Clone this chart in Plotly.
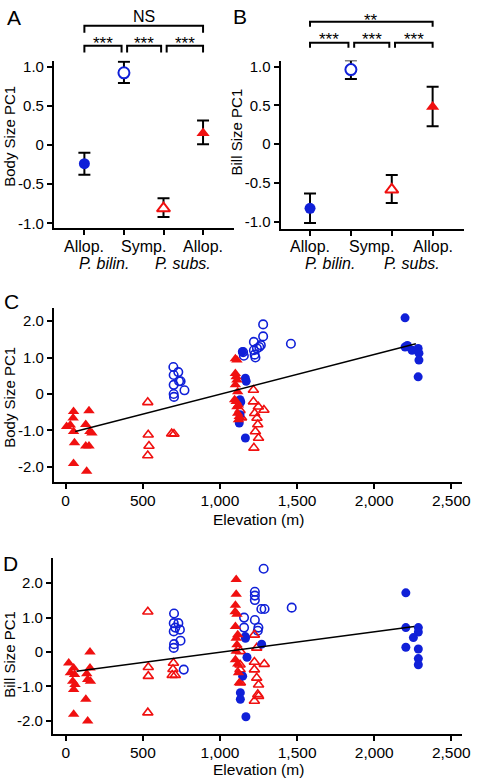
import plotly.graph_objects as go

W, H = 478, 782
FONT = "Liberation Sans, Arial, Helvetica, sans-serif"
BLUE = "#1020d8"
RED = "#f01010"

# ---------------- Data: panels A and B (group means with CI) ----------------
groups = ["Allop. P. bilin.", "Symp. P. bilin.", "Symp. P. subs.", "Allop. P. subs."]
group_x = [0, 1, 2, 3]
group_symbol = ["circle", "circle", "triangle-up", "triangle-up"]
group_fill = [BLUE, "white", "white", RED]
group_edge = [BLUE, BLUE, RED, RED]

body_mean = [-0.24, 0.92, -0.81, 0.15]
body_lo = [-0.38, 0.79, -0.92, 0.01]
body_hi = [-0.10, 1.06, -0.68, 0.31]

bill_mean = [-0.83, 0.96, -0.59, 0.48]
bill_lo = [-1.02, 0.84, -0.76, 0.23]
bill_hi = [-0.64, 1.08, -0.40, 0.74]

row1_labels = ["Allop.", "Symp.", "Allop."]
row1_pos = [0, 1.5, 3]
row2_labels = ["P. bilin.", "P. subs."]
row2_pos = [0.5, 2.5]

sig_a = [(0, 3, "NS"), (0, 1, "***"), (1, 2, "***"), (2, 3, "***")]
sig_b = [(0, 3, "**"), (0, 1, "***"), (1, 2, "***"), (2, 3, "***")]

ab_yticks = [1.0, 0.5, 0, -0.5, -1.0]
ab_yticktext = ["1.0", "0.5", "0", "-0.5", "-1.0"]

# ---------------- Data: panel C (body size vs elevation) ----------------
c_bo_x = [698, 700, 700, 700, 702, 730, 735, 745, 770, 1280, 1280, 1220, 1265, 1255,
          1220, 1150, 1230, 1225, 1460, 1155, 1240]
c_bo_y = [0.74, 0.52, 0.25, 0.0, -0.08, 0.60, 0.35, 0.35, 0.10, 1.91, 1.58, 1.43, 1.34, 1.29,
          1.20, 1.15, 1.00, 1.08, 1.38, 1.05, 1.25]
c_ro_x = [532, 535, 540, 532, 687, 702, 1217, 1217, 1249, 1285, 1225, 1240, 1245, 1230,
          1250, 1220, 1130, 1140]
c_ro_y = [-0.23, -1.12, -1.43, -1.69, -1.09, -1.10, 0.11, -0.21, -0.35, -0.44, -0.53, -0.66,
          -0.84, -1.03, -1.21, -1.48, -0.45, -0.65]
c_bf_x = [2200, 2200, 2215, 2245, 2285, 2290, 2290, 2285, 1145, 1165, 1170, 1130, 1135,
          1130, 1125, 1165]
c_bf_y = [2.09, 1.29, 1.33, 1.20, 1.25, 1.12, 0.93, 0.47, 1.16, 0.43, 0.35, -0.16, -0.22,
          -0.57, -0.80, -1.21]
c_rf_x = [51, 48, 30, 6, 51, 57, 51, 151, 130, 157, 170, 130, 151, 136,
          1100, 1110, 1100, 1105, 1110, 1100, 1115, 1095, 1105, 1120, 1110, 1115, 1125, 1120]
c_rf_y = [-0.48, -0.66, -0.85, -0.89, -1.03, -1.34, -1.91, -0.46, -0.84, -1.03, -1.07, -1.43,
          -1.43, -2.12,
          0.97, 0.93, 0.56, 0.47, 0.38, 0.25, 0.06, -0.16, -0.21, -0.30, -0.35, -0.53, -0.62, -0.71]
fit_c_x = [62, 2270]
fit_c_y = [-1.03, 1.38]

# ---------------- Data: panel D (bill size vs elevation) ----------------
d_bo_x = [702, 700, 730, 710, 740, 700, 744, 702, 700, 765, 1283, 1226, 1226, 1226, 1268,
          1289, 1465, 1156, 1226, 1156, 1249, 1245]
d_bo_y = [1.12, 0.84, 0.84, 0.71, 0.65, 0.60, 0.33, 0.23, 0.12, -0.51, 2.42, 1.75, 1.64,
          1.51, 1.25, 1.25, 1.29, 1.00, 0.93, 0.71, 0.71, 0.62]
d_ro_x = [532, 535, 535, 532, 698, 695, 690, 710, 1223, 1238, 1132, 1223, 1287, 1223, 1238,
          1132, 1250, 1245, 1250, 1223, 1130, 1130]
d_ro_y = [1.17, -0.44, -0.70, -1.76, -0.32, -0.50, -0.67, -0.67, 0.50, 0.12, 0.02, -0.29,
          -0.35, -0.51, -0.75, -0.89, -0.95, -1.23, -1.28, -1.42, -0.37, -0.51]
d_bf_x = [2205, 2205, 2286, 2286, 2254, 2205, 2286, 2286, 2286, 1164, 1270, 1175, 1147,
          1132, 1132, 1168, 1165]
d_bf_y = [1.72, 0.71, 0.71, 0.58, 0.42, 0.14, 0.09, -0.19, -0.37, 0.45, 0.23, -0.15, -0.70,
          -1.18, -1.37, -1.88, 0.40]
d_rf_x = [19, 51, 30, 57, 45, 60, 51, 51, 157, 157, 136, 142, 160, 130, 142,
          1105, 1105, 1100, 1098, 1100, 1105, 1110, 1105, 1100, 1115, 1120, 1125, 1110, 1115]
d_rf_y = [-0.32, -0.46, -0.60, -0.65, -0.85, -0.94, -1.09, -1.81, 0.0, -0.46, -0.63, -0.80,
          -0.85, -1.37, -2.0,
          2.11, 1.68, 1.36, 1.17, 0.74, 0.40, 0.21, 0.02, -0.22, -0.35, -0.60, -0.89, 1.10, 0.50]
fit_d_x = [70, 2260]
fit_d_y = [-0.56, 0.74]

cd_yticks = [2.0, 1.0, 0, -1.0, -2.0]
cd_yticktext = ["2.0", "1.0", "0", "-1.0", "-2.0"]
elev_ticks = [0, 500, 1000, 1500, 2000, 2500]
elev_ticktext = ["0", "500", "1,000", "1,500", "2,000", "2,500"]

y_titles = ["Body Size PC1", "Bill Size PC1", "Body Size PC1", "Bill Size PC1"]
x_title = "Elevation (m)"


# ---------------- helpers ----------------
def dx(p0, p1):
    return [p0 / W, p1 / W]


def dy(p0, p1):
    return [1 - p1 / H, 1 - p0 / H]


def py(p):
    return 1 - p / H


fig = go.Figure()

# Panels A, B
for means, lo, hi, xa, ya in [(body_mean, body_lo, body_hi, "x", "y"),
                              (bill_mean, bill_lo, bill_hi, "x2", "y2")]:
    for i in range(4):
        fig.add_trace(go.Scatter(
            x=[group_x[i]], y=[means[i]], mode="markers", xaxis=xa, yaxis=ya,
            name=groups[i], showlegend=False,
            error_y=dict(type="data", symmetric=False,
                         array=[hi[i] - means[i]], arrayminus=[means[i] - lo[i]],
                         color="black", thickness=2, width=6),
            marker=dict(symbol=group_symbol[i], size=11 if i < 2 else 11.5,
                        color=group_fill[i],
                        line=dict(color=group_edge[i], width=2 if group_fill[i] == "white" else 0)),
        ))

# Panels C, D
for (bo_x, bo_y, ro_x, ro_y, bf_x, bf_y, rf_x, rf_y, fx, fy, xa, ya) in [
        (c_bo_x, c_bo_y, c_ro_x, c_ro_y, c_bf_x, c_bf_y, c_rf_x, c_rf_y, fit_c_x, fit_c_y, "x3", "y3"),
        (d_bo_x, d_bo_y, d_ro_x, d_ro_y, d_bf_x, d_bf_y, d_rf_x, d_rf_y, fit_d_x, fit_d_y, "x4", "y4")]:
    fig.add_trace(go.Scatter(x=bo_x, y=bo_y, mode="markers", xaxis=xa, yaxis=ya, showlegend=False,
                             marker=dict(symbol="circle-open", size=8.5, color=BLUE,
                                         line=dict(color=BLUE, width=1.6))))
    fig.add_trace(go.Scatter(x=ro_x, y=ro_y, mode="markers", xaxis=xa, yaxis=ya, showlegend=False,
                             marker=dict(symbol="triangle-up-open", size=9, color=RED,
                                         line=dict(color=RED, width=1.6))))
    fig.add_trace(go.Scatter(x=bf_x, y=bf_y, mode="markers", xaxis=xa, yaxis=ya, showlegend=False,
                             marker=dict(symbol="circle", size=9, color=BLUE, line=dict(width=0))))
    fig.add_trace(go.Scatter(x=rf_x, y=rf_y, mode="markers", xaxis=xa, yaxis=ya, showlegend=False,
                             marker=dict(symbol="triangle-up", size=10, color=RED, line=dict(width=0))))
    fig.add_trace(go.Scatter(x=fx, y=fy, mode="lines", xaxis=xa, yaxis=ya, showlegend=False,
                             line=dict(color="black", width=1.5)))

axis_common = dict(showline=True, linecolor="black", linewidth=2, ticks="outside", ticklen=5,
                   tickwidth=2, tickcolor="black", showgrid=False, zeroline=False,
                   tickfont=dict(family=FONT, size=15, color="black"))

fig.update_layout(
    width=W, height=H, margin=dict(l=0, r=0, t=0, b=0),
    paper_bgcolor="white", plot_bgcolor="white", showlegend=False,
    font=dict(family=FONT, size=15, color="black"),
    xaxis=dict(**axis_common, domain=dx(55, 238), range=[-0.769, 3.77],
               tickvals=group_x, showticklabels=False, anchor="y"),
    yaxis=dict(**axis_common, domain=dy(58, 227), range=[-1.063, 1.076],
               tickvals=ab_yticks, ticktext=ab_yticktext, anchor="x"),
    xaxis2=dict(**axis_common, domain=dx(286, 473), range=[-0.72, 3.77],
                tickvals=group_x, showticklabels=False, anchor="y2"),
    yaxis2=dict(**axis_common, domain=dy(58, 228), range=[-1.10, 1.077],
                tickvals=ab_yticks, ticktext=ab_yticktext, anchor="x2"),
    xaxis3=dict(**axis_common, domain=dx(55, 471), range=[-76, 2570],
                tickvals=elev_ticks, ticktext=elev_ticktext, anchor="y3"),
    yaxis3=dict(**axis_common, domain=dy(307, 483), range=[-2.425, 2.37],
                tickvals=cd_yticks, ticktext=cd_yticktext, anchor="x3"),
    xaxis4=dict(**axis_common, domain=dx(54, 471), range=[-83, 2570],
                tickvals=elev_ticks, ticktext=elev_ticktext, anchor="y4"),
    yaxis4=dict(**axis_common, domain=dy(559, 737), range=[-2.39, 2.74],
                tickvals=cd_yticks, ticktext=cd_yticktext, anchor="x4"),
)
for ax in ["xaxis3", "xaxis4"]:
    fig.layout[ax].tickfont.size = 15.5
    fig.layout[ax].ticklabeloverflow = "allow"
    fig.layout[ax].ticklabelstandoff = -2

annotations = []
shapes = []

# category labels under A and B
for xa in ["x", "x2"]:
    for lab, pos in zip(row1_labels, row1_pos):
        annotations.append(dict(x=pos, y=py(245), xref=xa, yref="paper", text=lab, showarrow=False,
                                font=dict(family=FONT, size=16), xanchor="center", yanchor="middle"))
    for lab, pos in zip(row2_labels, row2_pos):
        annotations.append(dict(x=pos, y=py(263), xref=xa, yref="paper", text="<i>" + lab + "</i>",
                                showarrow=False, font=dict(family=FONT, size=16),
                                xanchor="center", yanchor="middle"))

# axis titles
for txt, xp, yp in zip(y_titles, [10, 241, 10, 10], [134, 130, 397, 656]):
    annotations.append(dict(x=xp / W, y=py(yp), xref="paper", yref="paper", text=txt,
                            textangle=-90, showarrow=False, xanchor="center", yanchor="middle",
                            font=dict(family=FONT, size=15)))
for yp in [520, 772]:
    annotations.append(dict(x=263 / W, y=py(yp), xref="paper", yref="paper", text=x_title,
                            showarrow=False, xanchor="center", yanchor="middle",
                            font=dict(family=FONT, size=15.5)))


# significance brackets
def add_brackets(sig, xa, top_y, top_leg, top_txt, in_y, in_leg, in_txt):
    for (i, j, lab) in sig:
        outer = (i == 0 and j == 3)
        x0 = i + (0.0 if i == 0 else 0.08)
        x1 = j - (0.0 if j == 3 else 0.06)
        if outer:
            yl, yb, yt = top_y, top_leg, top_txt
        else:
            yl, yb, yt = in_y, in_leg, in_txt
        path = "M {a},{b} L {a},{c} L {d},{c} L {d},{b}".format(a=x0, b=py(yb), c=py(yl), d=x1)
        shapes.append(dict(type="path", path=path, xref=xa, yref="paper",
                           line=dict(color="black", width=2)))
        star = lab.startswith("*")
        annotations.append(dict(x=(x0 + x1) / 2, y=py(yt), xref=xa, yref="paper", text=lab,
                                showarrow=False, xanchor="center", yanchor="middle",
                                font=dict(family=FONT, size=17 if star else 16)))


add_brackets(sig_a, "x", 23, 30, 14, 43, 50, 41)
add_brackets(sig_b, "x2", 19, 24, 18, 40, 45, 37)

# panel letters
for lab, xp, yp in [("A", 14, 15), ("B", 245, 14), ("C", 12, 301), ("D", 11, 565)]:
    annotations.append(dict(x=xp / W, y=py(yp), xref="paper", yref="paper", text=lab,
                            showarrow=False, xanchor="center", yanchor="middle",
                            font=dict(family=FONT, size=21)))

fig.update_layout(annotations=annotations, shapes=shapes)
fig.write_html("out.html", config={"displayModeBar": False},
               post_script="document.body.style.margin='0';document.body.style.overflow='hidden';")
